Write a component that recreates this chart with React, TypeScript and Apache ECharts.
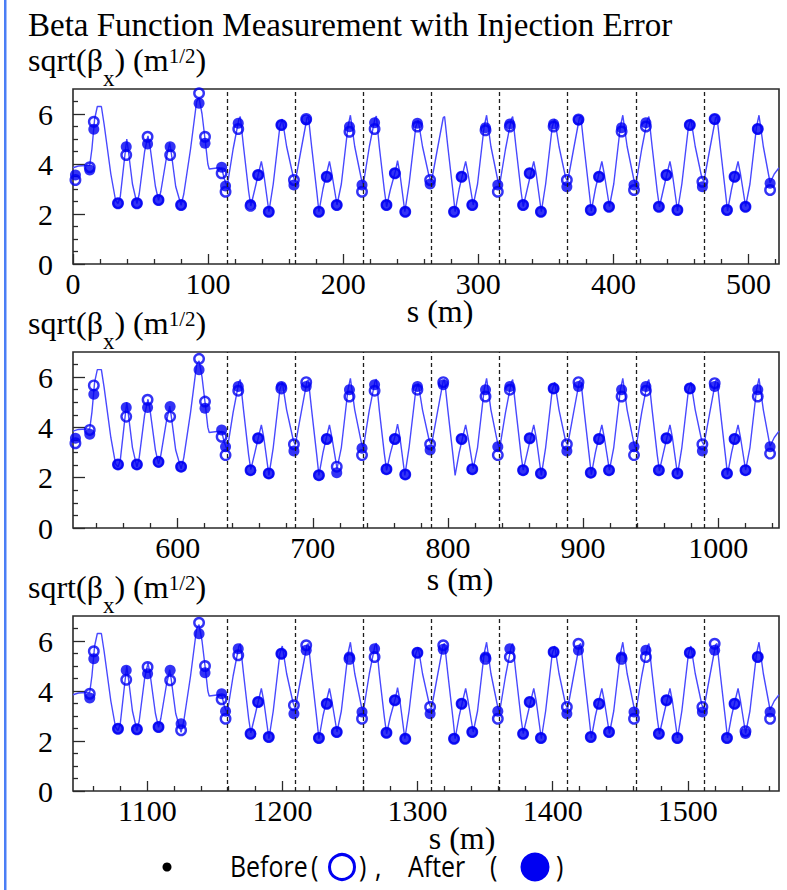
import React, { useEffect, useRef } from "react";
import * as echarts from "echarts";

// ---------------------------------------------------------------------------
// Data
// ---------------------------------------------------------------------------

// The ring is made of three identical superperiods (1567.5 m in total).
const superperiodLength = 522.5;
const panelStarts = [0, 522.5, 1045];

const xTickLabels1 = [0, 100, 200, 300, 400, 500];
const xTickLabels2 = [600, 700, 800, 900, 1000];
const xTickLabels3 = [1100, 1200, 1300, 1400, 1500];
const yTickLabels = [0, 2, 4, 6];

// Arc module boundaries inside one superperiod (m), drawn as dashed lines.
const arcModuleBoundaries = [114.1, 164.5, 214.9, 265.3, 315.7, 366.1, 416.5, 466.9];

// Design optics of one superperiod: [s (m), sqrt(beta_x) (m^1/2)].
const designSqrtBetaX: [number, number][] = [
  [0, 3.85], [4, 3.92], [12.4, 3.95], [14, 4.6], [16, 5.8], [18, 6.3], [21, 6.3], [23, 5.6],
  [28, 3.6], [31.5, 2.55], [33.3, 2.42], [35, 2.7], [38.5, 4.4], [39.8, 5.0], [40.8, 4.6],
  [44, 3.2], [47.3, 2.42], [49, 2.8], [53, 4.5], [55.5, 5.12], [57, 4.7], [61, 3.1],
  [63.3, 2.55], [65, 2.9], [69, 4.2], [71.6, 4.85], [72.6, 4.5], [76, 3.1], [80, 2.35],
  [82, 2.8], [87, 4.6], [91.5, 6.5], [93.3, 6.65], [95.5, 6.0], [97.7, 5.0], [99.8, 4.0],
  [100.8, 3.8], [108, 3.85], [110.2, 3.8], [112, 3.4], [114.1, 3.1],
  // module 1
  [118.5, 4.6], [122.8, 5.8], [123.8, 5.9], [126.2, 4.7], [130, 2.9], [131.6, 2.32],
  [134.6, 3.0], [137.6, 3.7], [139.4, 4.1], [141.2, 3.6], [145, 2.09], [148.2, 3.2],
  [153.1, 5.5], [154.9, 5.8], [158.1, 4.7], [163, 3.5],
  // module 2
  [164.5, 3.3], [168.9, 4.6], [173.2, 5.85], [174.2, 5.9], [176.6, 4.7], [180.4, 2.9],
  [182, 2.09], [185, 3.0], [188, 3.7], [189.8, 4.1], [191.6, 3.6], [195.4, 2.36],
  [198.6, 3.2], [203.5, 5.5], [205.3, 5.95], [208.5, 4.7], [213.4, 3.4],
  // module 3
  [214.9, 3.2], [219.3, 4.69], [223.5, 5.83], [224.5, 5.92], [226.7, 4.69], [230.4, 2.96],
  [232.1, 2.29], [234.8, 2.96], [238.5, 3.69], [240.2, 4.13], [241.9, 3.63], [245.6, 2.09],
  [248.8, 3.23], [253.7, 5.49], [255.5, 5.75], [258.7, 4.69], [263.6, 3.49],
  // module 4
  [265.3, 3.3], [269.7, 4.6], [274, 5.85], [275, 5.9], [277.4, 4.7], [281.2, 2.9],
  [282.8, 2.09], [285.8, 3.0], [288.8, 3.7], [290.6, 4.1], [292.4, 3.6], [296.2, 2.36],
  [299.4, 3.2], [304.3, 5.5], [306.1, 5.95], [309.3, 4.7], [314.2, 3.4],
  // module 5
  [315.7, 3.15], [320.1, 4.6], [324.4, 5.8], [325.4, 5.9], [327.8, 4.7], [331.6, 2.9],
  [333.2, 2.3], [336.2, 3.0], [339.2, 3.7], [341, 4.1], [342.8, 3.6], [346.6, 2.09],
  [349.8, 3.2], [354.7, 5.5], [356.5, 5.8], [359.7, 4.7], [364.6, 3.45],
  // module 6
  [366.1, 3.3], [370.5, 4.6], [374.8, 5.85], [375.8, 5.9], [378.2, 4.7], [382, 2.9],
  [383.6, 2.12], [386.6, 3.0], [389.6, 3.7], [391.4, 4.1], [393.2, 3.6], [397, 2.3],
  [400.2, 3.2], [405.1, 5.5], [406.9, 5.95], [410.1, 4.7], [415, 3.4],
  // module 7
  [416.5, 3.15], [420.9, 4.6], [425.2, 5.8], [426.2, 5.9], [428.6, 4.7], [432.4, 2.9],
  [434, 2.28], [437, 3.0], [440, 3.7], [441.8, 4.1], [443.6, 3.6], [447.4, 2.12],
  [450.6, 3.2], [455.5, 5.5], [457.3, 5.8], [460.5, 4.7], [465.4, 3.45],
  // module 8
  [466.9, 3.3], [471.3, 4.6], [475.6, 5.85], [476.6, 5.9], [479, 4.7], [482.8, 2.9],
  [484.4, 2.12], [487.4, 3.0], [490.4, 3.7], [492.2, 4.1], [494, 3.6], [497.8, 2.3],
  [501, 3.2], [505.9, 5.5], [507.7, 5.95], [510.9, 4.7], [515.9, 3.25],
  [519, 3.6], [522.5, 3.85],
];

// BPM positions inside one superperiod (m).
const bpmS = [
  1.8, 12.4, 15.4, 33.3, 39.4, 47.3, 55.2, 63.3, 71.9, 80.0, 93.3, 97.7, 110.0,
  112.9, 122.3, 131.4, 137.0, 144.9, 154.2,
  163.5, 172.6, 182.0, 187.8, 195.2, 204.6,
  213.9, 223.2, 232.0, 238.2, 245.9, 254.9,
  264.3, 274.0, 282.0, 287.6, 295.5, 305.3,
  314.4, 323.3, 333.1, 338.0, 346.3, 355.7,
  365.5, 374.1, 383.2, 389.3, 396.7, 406.0,
  415.2, 424.0, 433.6, 439.2, 447.3, 456.5,
  465.8, 474.9, 484.0, 489.6, 497.7, 506.8,
  515.9,
];

// Measured sqrt(beta_x) at the BPMs (null: no reading).
const before1: (number | null)[] = [
  3.36, 3.87, 5.69, 2.43, 4.36, 2.43, 5.09, 2.56, 4.36, 2.36, 6.83, 5.09, 3.63,
  2.89, 5.40, 2.33, 3.56, 2.09, 5.56,
  3.36, 5.80, 2.09, 3.49, 2.36, 5.29,
  2.89, 5.40, 2.36, 3.63, 2.09, 5.50,
  3.36, null, 2.09, 3.49, 2.36, 5.35,
  2.89, 5.50, 2.36, 3.63, 2.09, 5.50,
  3.36, 5.78, 2.16, 3.49, 2.29, 5.30,
  2.96, 5.50, 2.29, 3.56, 2.16, 5.56,
  3.29, 5.80, 2.16, 3.49, 2.29, 5.40,
  2.96,
];
const after1: (number | null)[] = [
  3.56, 3.76, 5.39, 2.43, 4.69, 2.43, 4.80, 2.56, 4.69, 2.36, 6.43, 4.83, 3.87,
  3.12, 5.63, 2.38, 3.56, 2.09, 5.56,
  3.16, 5.76, 2.09, 3.49, 2.36, 5.49,
  3.16, 5.65, 2.36, 3.63, 2.09, 5.63,
  3.20, null, 2.09, 3.49, 2.36, 5.45,
  3.16, 5.60, 2.36, 3.63, 2.09, 5.60,
  3.09, 5.76, 2.16, 3.49, 2.29, 5.45,
  3.16, 5.65, 2.29, 3.56, 2.16, 5.56,
  3.09, 5.79, 2.16, 3.49, 2.29, 5.40,
  3.23,
];
const before2: (number | null)[] = [
  3.37, 3.90, 5.67, 2.53, 4.43, 2.53, 5.10, 2.63, 4.43, 2.44, 6.73, 5.03, 3.63,
  2.90, 5.46, 2.30, 3.57, 2.17, 5.55,
  3.33, 5.80, 2.10, 3.54, 2.44, 5.23,
  2.90, 5.46, 2.34, 3.54, 2.13, 5.50,
  3.33, 5.80, null, 3.54, 2.34, 5.23,
  2.90, 5.50, 2.30, 3.57, 2.17, 5.55,
  3.33, 5.80, 2.20, 3.54, 2.30, 5.23,
  2.90, 5.46, 2.30, 3.57, 2.17, 5.55,
  3.33, 5.76, 2.17, 3.54, 2.30, 5.23,
  2.96,
];
const after2: (number | null)[] = [
  3.57, 3.73, 5.32, 2.53, 4.79, 2.53, 4.79, 2.63, 4.83, 2.44, 6.29, 4.76, 3.90,
  3.23, 5.63, 2.30, 3.57, 2.17, 5.63,
  3.06, 5.63, 2.10, 3.54, 2.20, 5.50,
  3.17, 5.70, 2.34, 3.54, 2.13, 5.63,
  3.10, 5.70, null, 3.54, 2.34, 5.50,
  3.23, 5.63, 2.30, 3.57, 2.17, 5.55,
  3.06, 5.63, 2.20, 3.54, 2.30, 5.50,
  3.23, 5.63, 2.30, 3.57, 2.17, 5.55,
  3.06, 5.63, 2.17, 3.54, 2.30, 5.50,
  3.23,
];
const before3: (number | null)[] = [
  null, 3.89, 5.59, 2.49, 4.45, 2.47, 4.96, 2.56, 4.43, 2.43, 6.73, 5.00, 3.67,
  2.89, 5.43, 2.29, 3.56, 2.16, 5.49,
  3.43, 5.83, 2.12, 3.49, 2.36, 5.29,
  2.89, 5.36, 2.33, 3.63, 2.09, 5.53,
  3.36, 5.83, 2.09, 3.49, 2.36, 5.29,
  2.89, 5.36, 2.29, 3.56, 2.12, 5.56,
  3.36, 5.89, 2.16, 3.49, 2.36, 5.29,
  2.89, 5.36, 2.29, 3.63, 2.12, 5.53,
  3.36, 5.89, 2.12, 3.49, 2.39, 5.36,
  2.89,
];
const after3: (number | null)[] = [
  null, 3.72, 5.29, 2.49, 4.83, 2.47, 4.69, 2.56, 4.83, 2.69, 6.29, 4.73, 3.89,
  3.19, 5.69, 2.29, 3.56, 2.16, 5.49,
  3.09, 5.63, 2.12, 3.49, 2.36, 5.36,
  3.16, 5.69, 2.33, 3.63, 2.09, 5.53,
  3.09, 5.67, 2.09, 3.49, 2.36, 5.36,
  3.19, 5.69, 2.29, 3.56, 2.12, 5.56,
  3.09, 5.63, 2.16, 3.49, 2.36, 5.36,
  3.16, 5.63, 2.29, 3.63, 2.12, 5.53,
  3.16, 5.63, 2.12, 3.49, 2.30, 5.36,
  3.16,
];

// ---------------------------------------------------------------------------
// Styling / layout
// ---------------------------------------------------------------------------

const SERIF = "'Liberation Serif', 'Times New Roman', serif";
const SANS = "'Open Sans', 'Noto Sans', sans-serif";
const MARK_BLUE = "#0000f2";
const LINE_BLUE = "#4848ff";
const FRAME = "#2a2a2a";

const FRAME_LEFT = 73;
const FRAME_WIDTH = 706;
const frames = [
  { top: 89, height: 175, titleBase: 71, sX: 440, sBase: 322 },
  { top: 352, height: 176, titleBase: 334, sX: 460, sBase: 590 },
  { top: 616, height: 175, titleBase: 598, sX: 462, sBase: 849 },
];

const panels = [
  { ticks: xTickLabels1, before: before1, after: after1 },
  { ticks: xTickLabels2, before: before2, after: after2 },
  { ticks: xTickLabels3, before: before3, after: after3 },
];

function steps(from: number, to: number, step: number, skipEvery: number) {
  const out: number[] = [];
  for (let v = Math.ceil(from / step - 1e-9) * step; v < to - 1e-9; v += step) {
    const r = v / skipEvery;
    if (Math.abs(r - Math.round(r)) > 1e-6) out.push(+v.toFixed(4));
  }
  return out;
}

let measureCtx: CanvasRenderingContext2D | null = null;
function textWidth(text: string, font: string) {
  if (!measureCtx) measureCtx = document.createElement("canvas").getContext("2d");
  measureCtx!.font = font;
  return measureCtx!.measureText(text).width;
}

// Text pieces set on a common baseline (rise shifts a piece up, negative down).
type Run = { text: string; size: number; rise: number };
function textRuns(
  runs: Run[], x0: number, baseline: number, family: string, central: number, squeeze = 1
) {
  let x = x0;
  const out: any[] = [];
  for (const r of runs) {
    const font = `${r.size}px ${family}`;
    out.push({
      type: "text",
      silent: true,
      x,
      y: baseline - r.rise - central * r.size,
      scaleX: squeeze,
      style: { text: r.text, font, fill: "#000", align: "left", verticalAlign: "middle" },
    });
    x += textWidth(r.text, font) * squeeze;
  }
  return out;
}

function centeredText(text: string, cx: number, baseline: number, size: number, family: string, central: number) {
  return {
    type: "text",
    silent: true,
    x: cx,
    y: baseline - central * size,
    style: { text, font: `${size}px ${family}`, fill: "#000", align: "center", verticalAlign: "middle" },
  };
}

function buildOption() {
  const grid: any[] = [];
  const xAxis: any[] = [];
  const yAxis: any[] = [];
  const series: any[] = [];

  const tickLine = { color: FRAME, width: 1.3 };

  // main grids (0..2) carry data, major ticks and labels
  frames.forEach((f) => {
    grid.push({
      left: FRAME_LEFT, width: FRAME_WIDTH, top: f.top, height: f.height,
      show: true, borderColor: FRAME, borderWidth: 1.6, backgroundColor: "transparent",
    });
  });
  // overlay grids (3..5) carry only minor ticks
  frames.forEach((f) => {
    grid.push({ left: FRAME_LEFT, width: FRAME_WIDTH, top: f.top, height: f.height, show: false });
  });

  panels.forEach((p, i) => {
    const start = panelStarts[i];
    const end = start + superperiodLength;
    xAxis[i] = {
      type: "value", gridIndex: i, min: start, max: end, position: "bottom",
      axisLine: { show: false },
      axisTick: { show: true, inside: true, length: 10, customValues: p.ticks, lineStyle: tickLine },
      axisLabel: {
        show: true, customValues: p.ticks, margin: 4, fontSize: 30, fontFamily: SERIF, color: "#000",
        formatter: (v: number) => String(v),
      },
      splitLine: { show: false },
    };
    xAxis[i + 3] = {
      type: "value", gridIndex: i + 3, min: start, max: end, position: "bottom",
      axisLine: { show: false },
      axisTick: { show: true, inside: true, length: 5, customValues: steps(start, end, 20, 100), lineStyle: tickLine },
      axisLabel: { show: false },
      splitLine: { show: false },
    };
    yAxis[i] = {
      type: "value", gridIndex: i, min: 0, max: 7, position: "left",
      axisLine: { show: false },
      axisTick: { show: true, inside: true, length: 12, customValues: yTickLabels, lineStyle: tickLine },
      axisLabel: {
        show: true, customValues: yTickLabels, margin: 20, fontSize: 30, fontFamily: SERIF, color: "#000",
        padding: [6, 0, 0, 0], formatter: (v: number) => String(v),
      },
      splitLine: { show: false },
    };
    yAxis[i + 3] = {
      type: "value", gridIndex: i + 3, min: 0, max: 7, position: "left",
      axisLine: { show: false },
      axisTick: { show: true, inside: true, length: 5, customValues: steps(0, 7, 0.5, 2), lineStyle: tickLine },
      axisLabel: { show: false },
      splitLine: { show: false },
    };

    series.push({
      type: "line",
      xAxisIndex: i,
      yAxisIndex: i,
      data: designSqrtBetaX.map(([s, v]) => [s + start, v]),
      showSymbol: false,
      symbol: "none",
      silent: true,
      z: 2,
      lineStyle: { color: LINE_BLUE, width: 1.4 },
      markLine: {
        silent: true,
        symbol: ["none", "none"],
        label: { show: false },
        lineStyle: { type: [4, 3], color: "#1e1e1e", width: 1.3 },
        emphasis: { disabled: true },
        data: arcModuleBoundaries.map((b) => ({ xAxis: b + start })),
      },
    });

    const pts = (vals: (number | null)[]) =>
      bpmS.flatMap((s, j) => (vals[j] == null ? [] : [[s + start, vals[j] as number]]));

    series.push({
      type: "scatter",
      xAxisIndex: i,
      yAxisIndex: i,
      data: pts(p.after),
      symbol: "circle",
      symbolSize: 11,
      silent: true,
      z: 3,
      itemStyle: { color: MARK_BLUE },
    });
    series.push({
      type: "scatter",
      xAxisIndex: i,
      yAxisIndex: i,
      data: pts(p.before),
      symbol: "circle",
      symbolSize: 9.5,
      silent: true,
      z: 4,
      itemStyle: { color: "rgba(0,0,0,0)", borderColor: MARK_BLUE, borderWidth: 2.4 },
    });
  });

  const graphic: any[] = [];
  // left margin rule
  graphic.push({ type: "rect", silent: true, shape: { x: 4, y: 0, width: 2.5, height: 890 }, style: { fill: "#4a7ef5" } });
  // heading
  graphic.push(...textRuns([{ text: "Beta Function Measurement with Injection Error", size: 33, rise: 0 }], 28, 36, SERIF, 0.34));

  frames.forEach((f) => {
    graphic.push(
      ...textRuns(
        [
          { text: "sqrt(β", size: 32, rise: 0 },
          { text: "x", size: 23, rise: -15 },
          { text: ") (m", size: 32, rise: 0 },
          { text: "1/2", size: 21, rise: 8 },
          { text: ")", size: 32, rise: 0 },
        ],
        28, f.titleBase, SERIF, 0.34
      )
    );
    graphic.push(centeredText("s (m)", f.sX, f.sBase, 32, SERIF, 0.34));
  });

  // legend line: "•  Before(○), After(●)"
  const legendBase = 877;
  const legendSize = 29;
  const squeeze = 0.86;
  graphic.push({ type: "circle", silent: true, shape: { cx: 167, cy: 867, r: 4.5 }, style: { fill: "#000" } });
  const legendPieces: [string, number][] = [
    ["Before", 230], ["(", 311], [")", 359], [",", 375], ["After", 408], ["(", 490], [")", 556],
  ];
  legendPieces.forEach(([t, x]) =>
    graphic.push(...textRuns([{ text: t, size: legendSize, rise: 0 }], x, legendBase, SANS, 0.39, squeeze))
  );
  graphic.push({
    type: "circle", silent: true, shape: { cx: 342, cy: 867, r: 12.5 },
    style: { fill: "none", stroke: MARK_BLUE, lineWidth: 3 },
  });
  graphic.push({ type: "circle", silent: true, shape: { cx: 535, cy: 867, r: 14.5 }, style: { fill: MARK_BLUE } });

  return { animation: false, backgroundColor: "#fff", grid, xAxis, yAxis, series, graphic };
}

export default function App() {
  const ref = useRef<HTMLDivElement>(null);
  useEffect(() => {
    if (!ref.current) return;
    const chart = echarts.init(ref.current, undefined, { renderer: "svg" });
    chart.setOption(buildOption() as any);
    return () => chart.dispose();
  }, []);
  return (
    <div
      ref={ref}
      style={{ position: "fixed", left: 0, top: 0, width: 787, height: 890, background: "#fff" }}
    />
  );
}
